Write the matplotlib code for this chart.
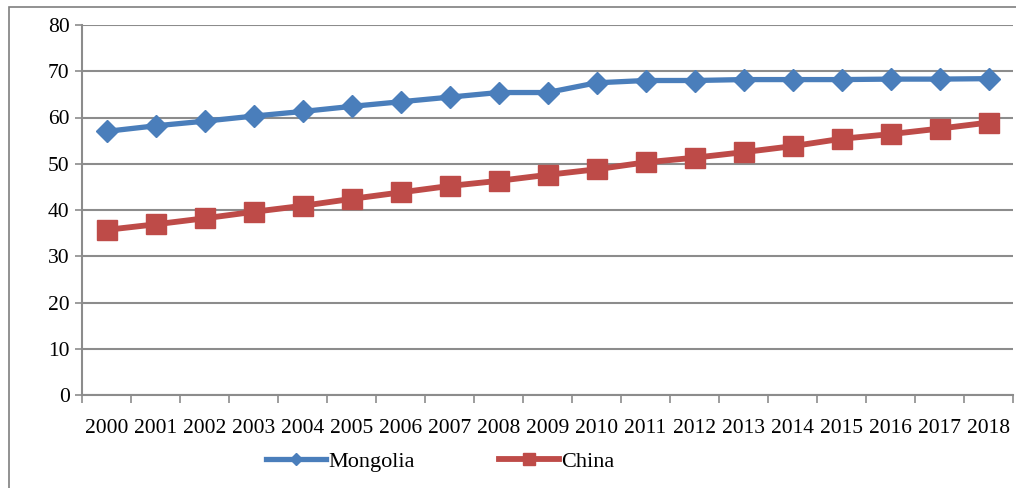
import matplotlib
matplotlib.use("Agg")
import matplotlib.pyplot as plt
from matplotlib.patches import Rectangle
import numpy as np

years = [str(y) for y in range(2000, 2019)]
mongolia = [57.0, 58.2, 59.2, 60.3, 61.3, 62.4, 63.4, 64.4, 65.4, 65.4,
            67.5, 68.0, 68.0, 68.2, 68.2, 68.2, 68.3, 68.3, 68.4]
china = [35.7, 36.9, 38.2, 39.6, 40.9, 42.4, 43.8, 45.2, 46.3, 47.6,
         48.8, 50.3, 51.3, 52.5, 53.8, 55.4, 56.4, 57.6, 58.9]

BLUE = "#4A7EBB"
RED = "#BE4B48"
GRID = "#8c8c8c"

plt.rcParams["font.family"] = ["Liberation Serif", "DejaVu Serif"]

W, H = 1016, 488
fig = plt.figure(figsize=(W / 100, H / 100), dpi=100)

# chart frame
fig.patches.append(Rectangle((9 / W, -0.1), 1.2, 1 - 7 / H + 0.1, transform=fig.transFigure,
                             fill=False, edgecolor="#7f7f7f", lw=1.2))

ax = fig.add_axes([82 / W, 1 - 395 / H, (1013 - 82) / W, (395 - 25) / H])
x = np.arange(len(years))
ax.plot(x, mongolia, color=BLUE, lw=3.8, marker="D", ms=11.5, mec=BLUE, label="Mongolia", zorder=3)
ax.plot(x, china, color=RED, lw=4.2, marker="s", ms=15, mec=RED, label="China", zorder=3)

ax.set_xlim(-0.5, len(years) - 0.5)
ax.set_ylim(0, 80)
ax.set_yticks(range(0, 81, 10))
ax.set_xticks(x)
ax.set_xticklabels(years)
ax.set_xticks(np.arange(-0.5, len(years)), minor=True)
ax.tick_params(axis="x", which="major", length=0, pad=17, labelsize=15.5)
ax.tick_params(axis="x", which="minor", length=6, color=GRID, width=1.2, direction="out")
ax.tick_params(axis="y", length=5, color=GRID, width=1.2, labelsize=15.5, pad=4)
ax.grid(axis="y", color=GRID, lw=1.5)
for s in ("top", "right"):
    ax.spines[s].set_visible(False)
for s in ("left", "bottom"):
    ax.spines[s].set_color(GRID)
    ax.spines[s].set_linewidth(1.5)

ax.legend(loc="center", bbox_to_anchor=(0.385, -0.18), ncol=2, frameon=False,
          fontsize=16, handlelength=2.7, handletextpad=0.1, columnspacing=3.8,
          markerscale=0.55)

fig.savefig("out.png", dpi=100)
